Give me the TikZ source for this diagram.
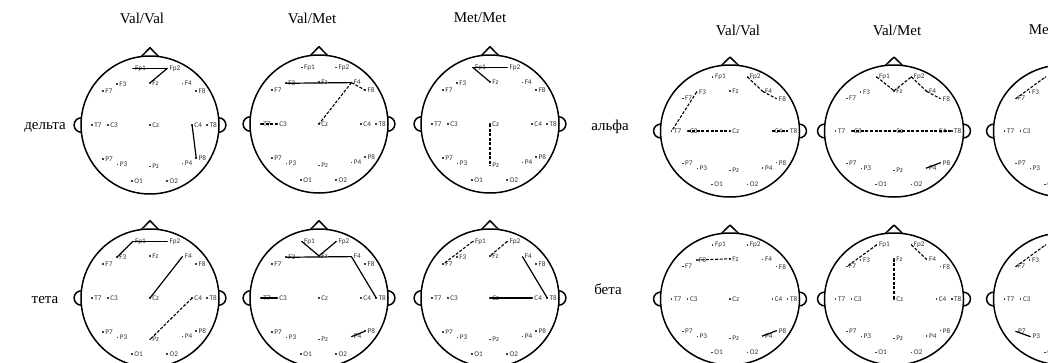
\documentclass[tikz,border=0pt]{standalone}
\usepackage{fontspec}
\setmainfont{Liberation Serif}
\newfontfamily\elfont{Carlito}

% One EEG head: #1 name prefix, #2/#3 centre, #4/#5 horizontal/vertical radius (pt)
\newcommand\eeghead[5]{%
  \begin{scope}[shift={(#2,#3)}, x=#4pt, y=-#5pt]
    \draw[headline] (0,0) circle[radius=1];
    \draw[headline, line join=round] (-0.125,-0.992) -- (0,-1.12) -- (0.125,-0.992);
    \draw[headline] (-0.995,-0.105) arc[start angle=270, end angle=90, radius=0.105];
    \draw[headline] (0.995,-0.105) arc[start angle=-90, end angle=90, radius=0.105];
    \foreach \n/\px/\py in {Fp1/-0.25/-0.82, Fp2/0.25/-0.82, Fz/0/-0.61,
        F3/-0.48/-0.59, F7/-0.68/-0.49, F4/0.47/-0.60, F8/0.67/-0.49,
        T7/-0.84/0, C3/-0.61/0, Cz/0/0, C4/0.61/0, T8/0.83/0,
        P7/-0.68/0.49, P3/-0.47/0.57, Pz/0/0.60, P4/0.47/0.56, P8/0.67/0.48,
        O1/-0.26/0.81, O2/0.25/0.81}{
      \node[eldot] (#1-\n) at (\px,\py) {};
      \node[ellabel] (#1-\n-lb) at ([xshift=0.9pt]#1-\n.east) {\n};
    }
  \end{scope}}

% connector between two electrodes
\newcommand\conn[3]{\draw[#1] (#2.center) -- (#3.center);}

\begin{document}
\begin{tikzpicture}[x=1pt, y=-1pt,
  headline/.style={line width=1.5pt, black},
  eldot/.style={rectangle, fill=black!75, minimum size=1.6pt, inner sep=0pt},
  ellabel/.style={font=\elfont\fontsize{7.2}{8}\selectfont, text=black!80, inner sep=0.3pt, anchor=west},
  solidlink/.style={line width=1.2pt, black},
  dashlink/.style={line width=1.1pt, black, dash pattern=on 3pt off 1.6pt},
  caption/.style={font=\fontsize{15}{17}\selectfont, inner sep=0pt}
]
\path[use as bounding box] (0,0) rectangle (1048,362);
\clip (0,0) rectangle (1048,362);
\fill[white] (0,0) rectangle (1048,362);

% ---- left panel: delta / theta ----
\node[caption] (tL1) at (142,18) {Val/Val};
\node[caption] (tL2) at (312,18) {Val/Met};
\node[caption] (tL3) at (480,18) {Met/Met};
\node[caption] (bDelta) at (45,127) {дельта};
\node[caption] (bTheta) at (45,300) {тета};

\eeghead{L1}{150}{125}{69}{69}
\eeghead{L2}{319}{124}{69}{69}
\eeghead{L3}{490}{124}{69}{69}
\eeghead{L4}{150}{298}{69}{69}
\eeghead{L5}{319}{298}{69}{69}
\eeghead{L6}{490}{298}{69}{69}

% delta, Val/Val
\conn{solidlink}{L1-Fp1}{L1-Fp2}
\conn{solidlink}{L1-Fp2}{L1-Fz}
\conn{solidlink}{L1-C4}{L1-P8}
% delta, Val/Met
\conn{solidlink}{L2-F3}{L2-F4}
\conn{dashlink}{L2-F4}{L2-F8}
\conn{dashlink}{L2-F4}{L2-Cz}
\conn{dashlink}{L2-T7}{L2-C3}
% delta, Met/Met
\conn{solidlink}{L3-Fp1}{L3-Fp2}
\conn{solidlink}{L3-Fp1}{L3-Fz}
\conn{dashlink}{L3-Cz}{L3-Pz}
% theta, Val/Val
\conn{solidlink}{L4-Fp1}{L4-Fp2}
\conn{solidlink}{L4-Fp1}{L4-F3}
\conn{solidlink}{L4-F4}{L4-Cz}
\conn{dashlink}{L4-C4}{L4-Pz}
% theta, Val/Met
\conn{solidlink}{L5-Fp1}{L5-Fz}
\conn{solidlink}{L5-Fp2}{L5-Fz}
\conn{solidlink}{L5-F3}{L5-F4}
\conn{solidlink}{L5-F4}{L5-T8}
\conn{solidlink}{L5-T7}{L5-C3}
\conn{solidlink}{L5-P4}{L5-P8}
% theta, Met/Met
\conn{dashlink}{L6-Fp1}{L6-F7}
\conn{dashlink}{L6-Fp2}{L6-Fz}
\conn{solidlink}{L6-F4}{L6-T8}
\conn{solidlink}{L6-Cz}{L6-C4}

% ---- right panel: alpha / beta ----
\node[caption] (tR1) at (738,30) {Val/Val};
\node[caption] (tR2) at (897,30) {Val/Met};
\node[caption] (tR3) at (1055,30) {Met/Met};
\node[caption] (bAlpha) at (610,127) {альфа};
\node[caption] (bBeta) at (608,289) {бета};

\eeghead{R1}{730}{131}{69.5}{66}
\eeghead{R2}{894}{131}{69.5}{66}
\eeghead{R3}{1063}{131}{69.5}{66}
\eeghead{R4}{730}{299}{69.5}{66}
\eeghead{R5}{894}{299}{69.5}{66}
\eeghead{R6}{1063}{299}{69.5}{66}

% alpha, Val/Val
\conn{dashlink}{R1-Fp2}{R1-F4}
\conn{dashlink}{R1-F4}{R1-F8}
\conn{dashlink}{R1-F3}{R1-T7}
\conn{dashlink}{R1-C3}{R1-Cz}
\conn{dashlink}{R1-C4}{R1-T8}
% alpha, Val/Met
\conn{dashlink}{R2-Fp1}{R2-Fz}
\conn{dashlink}{R2-Fz}{R2-Fp2}
\conn{dashlink}{R2-Fp2}{R2-F4}
\conn{dashlink}{R2-F4}{R2-F8}
\conn{dashlink}{R2-C3}{R2-T8}
\conn{solidlink}{R2-P4}{R2-P8}
% alpha, Met/Met
\conn{dashlink}{R3-F7}{R3-Fp1}
% beta, Val/Val
\conn{dashlink}{R4-F3}{R4-Fz}
\conn{solidlink}{R4-P4}{R4-P8}
% beta, Val/Met
\conn{dashlink}{R5-Fp1}{R5-F7}
\conn{dashlink}{R5-Fz}{R5-Cz}
\conn{dashlink}{R5-Fp2}{R5-F4}
% beta, Met/Met
\conn{dashlink}{R6-F7}{R6-Fp1}
\conn{solidlink}{R6-P7}{R6-P3}
\end{tikzpicture}
\end{document}
